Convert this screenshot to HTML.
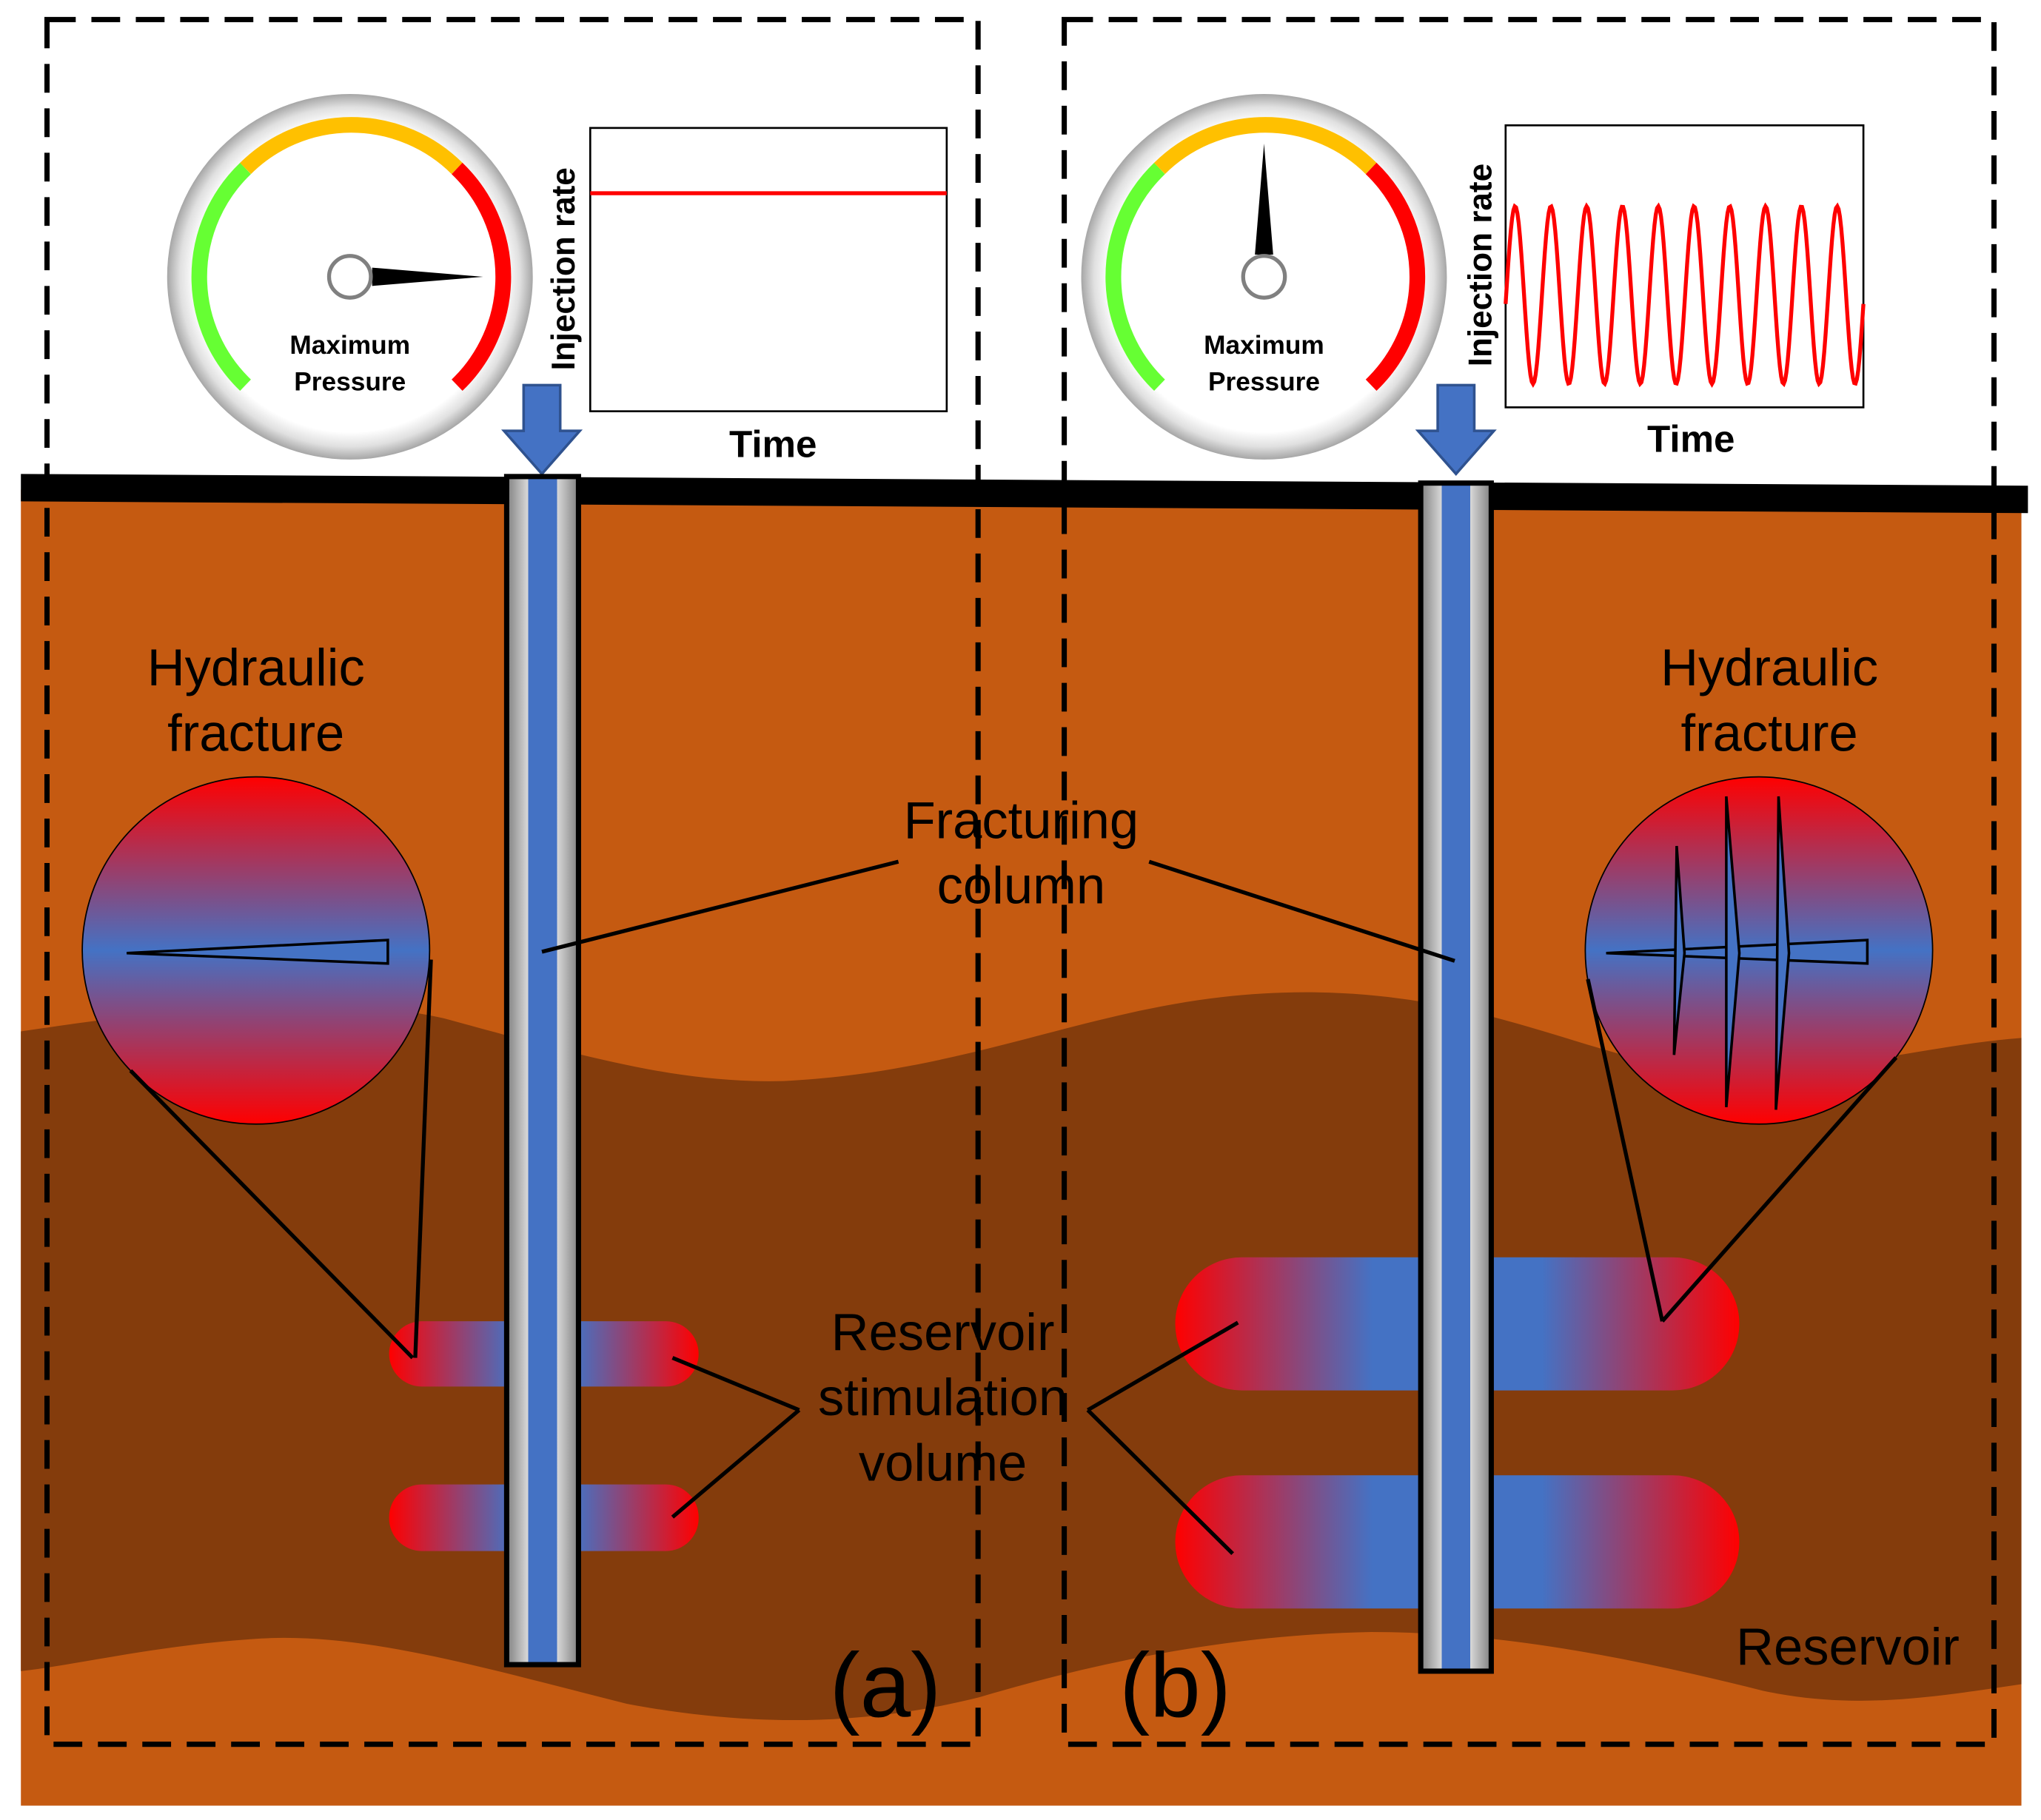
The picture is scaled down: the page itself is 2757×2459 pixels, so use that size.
<!DOCTYPE html>
<html><head><meta charset="utf-8"><style>
html,body{margin:0;padding:0;background:#fff;}
svg{display:block;}
text{font-family:"Liberation Sans",Arial,sans-serif;}
</style></head><body>
<svg width="2757" height="2459" viewBox="0 0 1563 1394" preserveAspectRatio="none" xmlns="http://www.w3.org/2000/svg">
<defs>
<linearGradient id="vg" x1="0" y1="0" x2="0" y2="1">
<stop offset="0" stop-color="#ff0000"/><stop offset="0.5" stop-color="#4472C4"/><stop offset="1" stop-color="#ff0000"/>
</linearGradient>
<linearGradient id="hg1" x1="298" y1="0" x2="535" y2="0" gradientUnits="userSpaceOnUse">
<stop offset="0" stop-color="#ff0000"/><stop offset="0.4" stop-color="#4472C4"/><stop offset="0.6" stop-color="#4472C4"/><stop offset="1" stop-color="#ff0000"/>
</linearGradient>
<linearGradient id="hg2" x1="900" y1="0" x2="1332" y2="0" gradientUnits="userSpaceOnUse">
<stop offset="0" stop-color="#ff0000"/><stop offset="0.35" stop-color="#4472C4"/><stop offset="0.65" stop-color="#4472C4"/><stop offset="1" stop-color="#ff0000"/>
</linearGradient>
<linearGradient id="col" x1="0" y1="0" x2="1" y2="0">
<stop offset="0" stop-color="#808080"/><stop offset="0.3" stop-color="#d9d9d9"/><stop offset="0.3" stop-color="#4472C4"/><stop offset="0.7" stop-color="#4472C4"/><stop offset="0.7" stop-color="#d9d9d9"/><stop offset="1" stop-color="#808080"/>
</linearGradient>
<radialGradient id="ring" cx="0.5" cy="0.5" r="0.5">
<stop offset="0.85" stop-color="#ffffff"/><stop offset="0.93" stop-color="#e0e0e0"/><stop offset="1" stop-color="#a6a6a6"/>
</radialGradient>
</defs>
<rect width="1563" height="1394" fill="#fff"/>
<rect x="16" y="375" width="1532" height="1008" fill="#C55A11"/>
<path d="M16,790 C150,770 250,760 340,780 C450,810 520,830 600,828 C760,820 850,760 1000,760 C1150,760 1230,820 1320,820 C1420,820 1480,800 1548,795 L1548,1290 C1480,1300 1420,1310 1350,1295 C1250,1270 1150,1250 1050,1250 C950,1252 850,1270 750,1300 C650,1325 560,1320 480,1305 C380,1280 280,1250 200,1255 C120,1260 60,1275 16,1280 Z" fill="#843C0C"/>
<polygon points="16,363 1553,372 1553,393 16,384" fill="#000"/>
<rect x="36" y="15" width="713" height="1321" fill="none" stroke="#000" stroke-width="4" stroke-dasharray="22 12"/>
<rect x="815" y="15" width="712" height="1321" fill="none" stroke="#000" stroke-width="4" stroke-dasharray="22 12"/>
<polygon points="401,295 429,295 429,330 444,330 415,363 386,330 401,330" fill="#4472C4" stroke="#2F528F" stroke-width="2"/>
<polygon points="1101,295 1129,295 1129,330 1144,330 1115,363 1086,330 1101,330" fill="#4472C4" stroke="#2F528F" stroke-width="2"/>
<g>
<circle cx="268" cy="212" r="140" fill="url(#ring)"/>
<path d="M188,295 A115,115 0 0 1 188,129" fill="none" stroke="#66ff33" stroke-width="12"/>
<path d="M188,129 A115,115 0 0 1 350,129" fill="none" stroke="#ffc000" stroke-width="12"/>
<path d="M350,129 A115,115 0 0 1 350,295" fill="none" stroke="#ff0000" stroke-width="12"/>
<polygon points="285,205 370,212 285,219" fill="#000"/>
<circle cx="268" cy="212" r="16" fill="#fff" stroke="#808080" stroke-width="3"/>
<text x="268" y="271" font-size="20" font-weight="bold" text-anchor="middle">Maximum</text>
<text x="268" y="299" font-size="20" font-weight="bold" text-anchor="middle">Pressure</text>
</g>
<g>
<circle cx="968" cy="212" r="140" fill="url(#ring)"/>
<path d="M888,295 A115,115 0 0 1 888,129" fill="none" stroke="#66ff33" stroke-width="12"/>
<path d="M888,129 A115,115 0 0 1 1050,129" fill="none" stroke="#ffc000" stroke-width="12"/>
<path d="M1050,129 A115,115 0 0 1 1050,295" fill="none" stroke="#ff0000" stroke-width="12"/>
<polygon points="961,195 968,110 975,195" fill="#000"/>
<circle cx="968" cy="212" r="16" fill="#fff" stroke="#808080" stroke-width="3"/>
<text x="968" y="271" font-size="20" font-weight="bold" text-anchor="middle">Maximum</text>
<text x="968" y="299" font-size="20" font-weight="bold" text-anchor="middle">Pressure</text>
</g>
<rect x="452" y="98" width="273" height="217" fill="#fff" stroke="#000" stroke-width="1.5"/>
<line x1="452" y1="148" x2="725" y2="148" stroke="#ff0000" stroke-width="3"/>
<text x="592" y="350" font-size="29" font-weight="bold" text-anchor="middle">Time</text>
<text transform="translate(440,206) rotate(-90)" font-size="25" font-weight="bold" text-anchor="middle">Injection rate</text>
<rect x="1153" y="96" width="274" height="216" fill="#fff" stroke="#000" stroke-width="1.5"/>
<polyline id="sine" fill="none" stroke="#ff0000" stroke-width="3" points=""/>
<text x="1295" y="346" font-size="29" font-weight="bold" text-anchor="middle">Time</text>
<text transform="translate(1142,203) rotate(-90)" font-size="25" font-weight="bold" text-anchor="middle">Injection rate</text>
<rect x="298" y="1012" width="237" height="50" rx="25" fill="url(#hg1)"/>
<rect x="298" y="1137" width="237" height="51" rx="25" fill="url(#hg1)"/>
<rect x="900" y="963" width="432" height="102" rx="51" fill="url(#hg2)"/>
<rect x="900" y="1130" width="432" height="102" rx="51" fill="url(#hg2)"/>
<rect x="388" y="365" width="55" height="910" fill="url(#col)" stroke="#000" stroke-width="4"/>
<rect x="1088" y="370" width="54" height="910" fill="url(#col)" stroke="#000" stroke-width="4"/>
<circle cx="196" cy="728" r="133" fill="url(#vg)" stroke="#000" stroke-width="1"/>
<polygon points="97,730 297,720 297,738" fill="#4472C4" stroke="#000" stroke-width="2"/>
<circle cx="1347" cy="728" r="133" fill="url(#vg)" stroke="#000" stroke-width="1"/>
<polygon points="1230,730 1430,720 1430,738" fill="#4472C4" stroke="#000" stroke-width="2"/>
<polygon points="1284,648 1290,730 1282,808" fill="#4472C4" stroke="#000" stroke-width="2"/>
<polygon points="1322,610 1332,730 1322,848" fill="#4472C4" stroke="#000" stroke-width="2"/>
<polygon points="1362,610 1370,730 1360,850" fill="#4472C4" stroke="#000" stroke-width="2"/>
<g stroke="#000" stroke-width="3" fill="none">
<line x1="100" y1="820" x2="316" y2="1040"/>
<line x1="330" y1="735" x2="318" y2="1040"/>
<line x1="1216" y1="750" x2="1273" y2="1012"/>
<line x1="1452" y1="810" x2="1273" y2="1012"/>
<line x1="415" y1="729" x2="688" y2="660"/>
<line x1="880" y1="660" x2="1114" y2="736"/>
<line x1="515" y1="1040" x2="612" y2="1080"/>
<line x1="515" y1="1162" x2="612" y2="1080"/>
<line x1="833" y1="1080" x2="948" y2="1013"/>
<line x1="833" y1="1080" x2="944" y2="1190"/>
</g>
<g font-size="40" text-anchor="middle">
<text x="196" y="525">Hydraulic</text>
<text x="196" y="575">fracture</text>
<text x="1355" y="525">Hydraulic</text>
<text x="1355" y="575">fracture</text>
<text x="782" y="642">Fracturing</text>
<text x="782" y="692">column</text>
<text x="722" y="1034">Reservoir</text>
<text x="722" y="1084">stimulation</text>
<text x="722" y="1134">volume</text>
<text x="1415" y="1275">Reservoir</text>
</g>
<text x="678" y="1315" font-size="70" text-anchor="middle">(a)</text>
<text x="900" y="1315" font-size="70" text-anchor="middle">(b)</text>
</svg>
<script>
(function(){var p=[];for(var x=1153;x<=1427;x+=1){var t=(x-1153)/27.4*2*Math.PI;var y=226-68*Math.sin(t-0.1);p.push(x+","+y.toFixed(1));}document.getElementById("sine").setAttribute("points",p.join(" "));})();
</script>
</body></html>
